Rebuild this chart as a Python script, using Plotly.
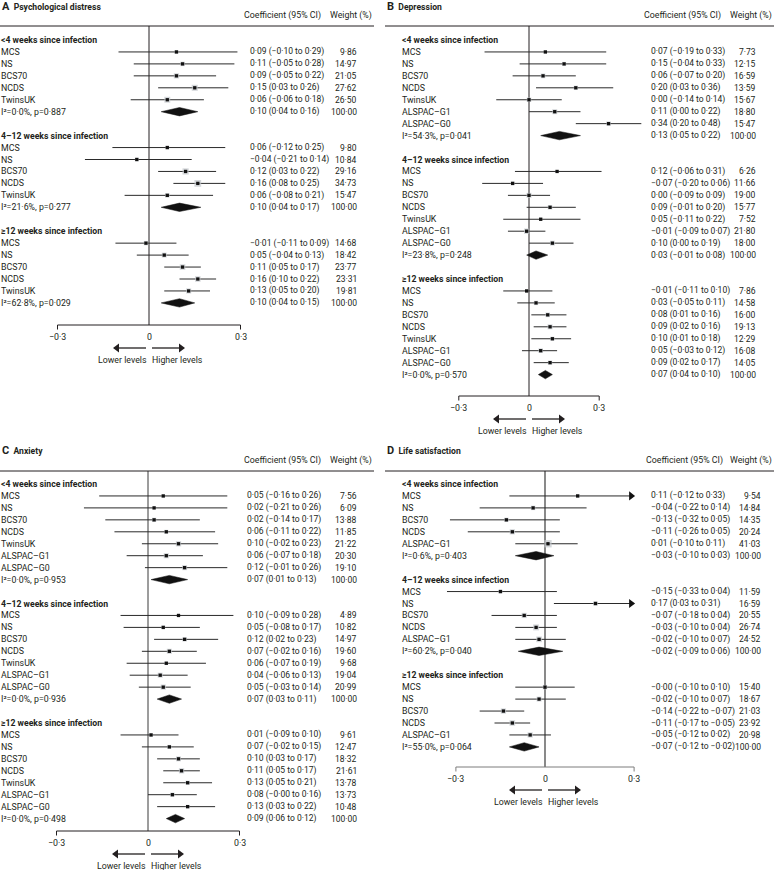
import math
import plotly.graph_objects as go

W, H = 774, 870
S = 11.95  # row pitch (px)
FONT = "Roboto, Liberation Sans, sans-serif"
TXT = "#231f20"
FS = 8.5

# ---------------- data ----------------
groups = ["<4 weeks since infection", "4–12 weeks since infection", "≥12 weeks since infection"]
studies5 = ["MCS", "NS", "BCS70", "NCDS", "TwinsUK"]
studies7 = ["MCS", "NS", "BCS70", "NCDS", "TwinsUK", "ALSPAC–G1", "ALSPAC–G0"]
studiesD = ["MCS", "NS", "BCS70", "NCDS", "ALSPAC–G1"]

# A  Psychological distress
A_est = [[0.09, 0.11, 0.09, 0.15, 0.06], [0.06, -0.04, 0.12, 0.16, 0.06], [-0.01, 0.05, 0.11, 0.16, 0.13]]
A_lo = [[-0.10, -0.05, -0.05, 0.03, -0.06], [-0.12, -0.21, 0.03, 0.08, -0.08], [-0.11, -0.04, 0.05, 0.10, 0.05]]
A_hi = [[0.29, 0.28, 0.22, 0.26, 0.18], [0.25, 0.14, 0.22, 0.25, 0.21], [0.09, 0.13, 0.17, 0.22, 0.20]]
A_wt = [[9.86, 14.97, 21.05, 27.62, 26.50], [9.80, 10.84, 29.16, 34.73, 15.47], [14.68, 18.42, 23.77, 23.31, 19.81]]
A_pool_est = [0.10, 0.10, 0.10]
A_pool_lo = [0.04, 0.04, 0.04]
A_pool_hi = [0.16, 0.17, 0.15]
A_i2 = [0.0, 21.6, 62.8]
A_p = [0.887, 0.277, 0.029]

# B  Depression
B_est = [[0.07, 0.15, 0.06, 0.20, 0.00, 0.11, 0.34], [0.12, -0.07, 0.00, 0.09, 0.05, -0.01, 0.10], [-0.01, 0.03, 0.08, 0.09, 0.10, 0.05, 0.09]]
B_lo = [[-0.19, -0.04, -0.07, 0.03, -0.14, 0.00, 0.20], [-0.06, -0.20, -0.09, -0.01, -0.11, -0.09, 0.00], [-0.11, -0.05, 0.01, 0.02, 0.01, -0.03, 0.02]]
B_hi = [[0.33, 0.33, 0.20, 0.36, 0.14, 0.22, 0.48], [0.31, 0.06, 0.09, 0.20, 0.22, 0.07, 0.19], [0.10, 0.11, 0.16, 0.16, 0.18, 0.12, 0.17]]
B_wt = [[7.73, 12.15, 16.59, 13.59, 15.67, 18.80, 15.47], [6.26, 11.66, 19.00, 15.77, 7.52, 21.80, 18.00], [7.86, 14.58, 16.00, 19.13, 12.29, 16.08, 14.05]]
B_pool_est = [0.13, 0.03, 0.07]
B_pool_lo = [0.05, -0.01, 0.04]
B_pool_hi = [0.22, 0.08, 0.10]
B_i2 = [54.3, 23.8, 0.0]
B_p = [0.041, 0.248, 0.570]

# C  Anxiety
C_est = [[0.05, 0.02, 0.02, 0.06, 0.10, 0.06, 0.12], [0.10, 0.05, 0.12, 0.07, 0.06, 0.04, 0.05], [0.01, 0.07, 0.10, 0.11, 0.13, 0.08, 0.13]]
C_lo = [[-0.16, -0.21, -0.14, -0.11, -0.02, -0.07, -0.01], [-0.09, -0.08, 0.02, -0.02, -0.07, -0.06, -0.03], [-0.09, -0.02, 0.03, 0.05, 0.05, -0.0, 0.03]]
C_hi = [[0.26, 0.26, 0.17, 0.22, 0.23, 0.18, 0.26], [0.28, 0.17, 0.23, 0.16, 0.19, 0.13, 0.14], [0.10, 0.15, 0.17, 0.17, 0.21, 0.16, 0.22]]
C_wt = [[7.56, 6.09, 13.88, 11.85, 21.22, 20.30, 19.10], [4.89, 10.82, 14.97, 19.60, 9.68, 19.04, 20.99], [9.61, 12.47, 18.32, 21.61, 13.78, 13.73, 10.48]]
C_pool_est = [0.07, 0.07, 0.09]
C_pool_lo = [0.01, 0.03, 0.06]
C_pool_hi = [0.13, 0.11, 0.12]
C_i2 = [0.0, 0.0, 0.0]
C_p = [0.953, 0.936, 0.498]

# D  Life satisfaction
D_est = [[0.11, -0.04, -0.13, -0.11, 0.01], [-0.15, 0.17, -0.07, -0.03, -0.02], [-0.0, -0.02, -0.14, -0.11, -0.05]]
D_lo = [[-0.12, -0.22, -0.32, -0.26, -0.10], [-0.33, 0.03, -0.18, -0.10, -0.10], [-0.10, -0.10, -0.22, -0.17, -0.12]]
D_hi = [[0.33, 0.14, 0.05, 0.05, 0.11], [0.04, 0.31, 0.04, 0.04, 0.07], [0.10, 0.07, -0.07, -0.05, 0.02]]
D_wt = [[9.54, 14.84, 14.35, 20.24, 41.03], [11.59, 16.59, 20.55, 26.74, 24.52], [15.40, 18.67, 21.03, 23.92, 20.98]]
D_pool_est = [-0.03, -0.02, -0.07]
D_pool_lo = [-0.10, -0.09, -0.12]
D_pool_hi = [0.03, 0.06, -0.02]
D_i2 = [0.6, 60.2, 55.0]
D_p = [0.403, 0.040, 0.064]

tick_vals = [-0.3, 0.0, 0.3]
tick_text = ["−0·3", "0", "0·3"]

# ---------------- layout of panels (pixel geometry) ----------------
panels = [
    dict(letter="A", title="Psychological distress", studies=studies5,
         est=A_est, lo=A_lo, hi=A_hi, wt=A_wt, pe=A_pool_est, pl=A_pool_lo, ph=A_pool_hi, i2=A_i2, p=A_p,
         left=0, right=374, zero=149, scale=305, y0=40, hdr=26, title_y=6, colhdr_y=15,
         name_x=0, coef_x=249, wt_rx=358, colhdr_x=243, wthdr_rx=373, axis_px=325, dom=(5, 250),
         zcol=TXT, zw=1, clip=None),
    dict(letter="B", title="Depression", studies=studies7,
         est=B_est, lo=B_lo, hi=B_hi, wt=B_wt, pe=B_pool_est, pl=B_pool_lo, ph=B_pool_hi, i2=B_i2, p=B_p,
         left=385, right=774, zero=529, scale=234, y0=40, hdr=26, title_y=6, colhdr_y=15,
         name_x=401, coef_x=650, wt_rx=757, colhdr_x=643, wthdr_rx=773, axis_px=396, dom=(395, 665),
         zcol=TXT, zw=1, clip=None),
    dict(letter="C", title="Anxiety", studies=studies7,
         est=C_est, lo=C_lo, hi=C_hi, wt=C_wt, pe=C_pool_est, pl=C_pool_lo, ph=C_pool_hi, i2=C_i2, p=C_p,
         left=0, right=374, zero=148, scale=305, y0=484, hdr=471, title_y=450, colhdr_y=460,
         name_x=0, coef_x=246, wt_rx=358, colhdr_x=243, wthdr_rx=373, axis_px=831, dom=(5, 250),
         zcol="#3a3a3a", zw=1, clip=None),
    dict(letter="D", title="Life satisfaction", studies=studiesD,
         est=D_est, lo=D_lo, hi=D_hi, wt=D_wt, pe=D_pool_est, pl=D_pool_lo, ph=D_pool_hi, i2=D_i2, p=D_p,
         left=385, right=774, zero=545, scale=297, y0=484, hdr=471, title_y=450, colhdr_y=460,
         name_x=401, coef_x=650, wt_rx=762, colhdr_x=645, wthdr_rx=773, axis_px=767, dom=(395, 665),
         zcol="#7d7d7d", zw=1.8, clip=0.3),
]


def f2(v):
    return f"{v:.2f}".replace("-", "−").replace(".", "·")


def ci_text(e, l, h):
    return f"{f2(e)} ({f2(l)} to {f2(h)})"


fig = go.Figure()
annotations = []
shapes = []
layout_axes = {}


def pxx(px):
    return px / W


def txt(xref, yref, x, y, text, anchor="left", size=FS, **kw):
    d = dict(xref=xref, yref=yref, x=x, y=y, xanchor=anchor, yanchor="middle", showarrow=False,
             text=text, font=dict(family=FONT, size=size, color=TXT), borderpad=0)
    d.update(kw)
    annotations.append(d)


for k, P in enumerate(panels):
    sfx = "" if k == 0 else str(k + 1)
    xa, ya = "x" + sfx, "y" + sfx
    zero, scale, y0 = P["zero"], P["scale"], P["y0"]

    d0, d1 = P["dom"]
    layout_axes["xaxis" + sfx] = dict(domain=[d0 / W, d1 / W], range=[(d0 - zero) / scale, (d1 - zero) / scale],
                                      visible=False, anchor=ya, fixedrange=True)
    layout_axes["yaxis" + sfx] = dict(domain=[0, 1], range=[(H - y0) / S, -y0 / S],
                                      visible=False, anchor=xa, fixedrange=True)

    def row_of(px):
        return (px - y0) / S

    # panel title and column headers
    txt("paper", "paper", pxx(P["left"] + 1), 1 - P["title_y"] / H,
        f"<b><span style='font-size:11px'>{P['letter']}</span>  {P['title']}</b>", size=8.6)
    txt("paper", "paper", pxx(P["colhdr_x"]), 1 - P["colhdr_y"] / H, "Coefficient (95% CI)", size=8.8)
    txt("paper", "paper", pxx(P["wthdr_rx"]), 1 - P["colhdr_y"] / H, "Weight (%)", anchor="right", size=8.8)
    shapes.append(dict(type="line", xref="paper", yref="paper", x0=pxx(P["left"]), x1=pxx(P["right"]),
                       y0=1 - P["hdr"] / H, y1=1 - P["hdr"] / H, line=dict(color=TXT, width=1)))

    r = 0
    ci_x, ci_y = [], []
    sq_x, sq_y, sq_s = [], [], []
    dm_x, dm_y = [], []
    tri_x, tri_y = [], []
    hh = 4.2 / S
    for g, gname in enumerate(groups):
        txt("paper", ya, pxx(P["name_x"]), r, f"<b>{gname}</b>", size=8.7)
        r += 1
        for i, st in enumerate(P["studies"]):
            e, l, h, w = P["est"][g][i], P["lo"][g][i], P["hi"][g][i], P["wt"][g][i]
            h_line = h
            if P["clip"] is not None and h > P["clip"]:
                h_line = P["clip"] - 3 / scale
                tri_x.append(P["clip"] - 3 / scale)
                tri_y.append(r)
            ci_x += [l, h_line, None]
            ci_y += [r, r, None]
            sq_x.append(e)
            sq_y.append(r)
            sq_s.append(math.sqrt(w) * 1.15)
            txt("paper", ya, pxx(P["name_x"]), r, st, size=8.8)
            txt("paper", ya, pxx(P["coef_x"]), r, ci_text(e, l, h))
            txt("paper", ya, pxx(P["wt_rx"]), r, f2(w), anchor="right")
            r += 1
        pe, pl, ph = P["pe"][g], P["pl"][g], P["ph"][g]
        dm_x += [pl, pe, ph, pe, pl, None]
        dm_y += [r, r - hh, r, r + hh, r, None]
        het = f"I²={P['i2'][g]:.1f}%, p={P['p'][g]:.3f}".replace(".", "·")
        txt("paper", ya, pxx(P["name_x"]), r, het, size=8.8)
        txt("paper", ya, pxx(P["coef_x"]), r, ci_text(pe, pl, ph))
        txt("paper", ya, pxx(P["wt_rx"]), r, f2(100.0), anchor="right")
        r += 2

    axis_r = row_of(P["axis_px"])
    hdr_r = row_of(P["hdr"])
    tick_r = 4.5 / S

    fig.add_trace(go.Scatter(x=[0, 0], y=[hdr_r, axis_r], mode="lines", xaxis=xa, yaxis=ya,
                             line=dict(color=P["zcol"], width=P["zw"]), hoverinfo="skip"))
    fig.add_trace(go.Scatter(x=ci_x, y=ci_y, mode="lines", xaxis=xa, yaxis=ya,
                             line=dict(color="#2a2a2a", width=1), hoverinfo="skip"))
    if tri_x:
        fig.add_trace(go.Scatter(x=tri_x, y=tri_y, mode="markers", xaxis=xa, yaxis=ya, cliponaxis=False,
                                 marker=dict(symbol="triangle-right", size=8, color="#111111", line=dict(width=0)),
                                 hoverinfo="skip"))
    fig.add_trace(go.Scatter(x=sq_x, y=sq_y, mode="markers", xaxis=xa, yaxis=ya, cliponaxis=False,
                             marker=dict(symbol="square", size=sq_s, color="#c3c7cc", line=dict(width=0)),
                             hoverinfo="skip"))
    fig.add_trace(go.Scatter(x=sq_x, y=sq_y, mode="markers", xaxis=xa, yaxis=ya, cliponaxis=False,
                             marker=dict(symbol="square", size=3.3, color="#111111", line=dict(width=0)),
                             hoverinfo="skip"))
    fig.add_trace(go.Scatter(x=dm_x, y=dm_y, mode="lines", fill="toself", fillcolor="#111111", xaxis=xa, yaxis=ya,
                             line=dict(color="#111111", width=0.5), hoverinfo="skip"))
    fig.add_trace(go.Scatter(x=[tick_vals[0], tick_vals[0], tick_vals[-1], tick_vals[-1]],
                             y=[axis_r + tick_r, axis_r, axis_r, axis_r + tick_r], mode="lines",
                             xaxis=xa, yaxis=ya, line=dict(color=P["zcol"] if k == 3 else TXT, width=1),
                             hoverinfo="skip"))
    for tv, tt in zip(tick_vals, tick_text):
        txt(xa, ya, tv, axis_r + 12 / S, tt, anchor="center", size=8.8)

    # direction arrows (lines + triangular heads)
    arr_r = axis_r + 23 / S
    fig.add_trace(go.Scatter(x=[-3 / scale, -31 / scale, None, 3 / scale, 31 / scale],
                             y=[arr_r, arr_r, None, arr_r, arr_r], mode="lines", xaxis=xa, yaxis=ya,
                             line=dict(color=TXT, width=1.3), hoverinfo="skip"))
    fig.add_trace(go.Scatter(x=[-32 / scale, 32 / scale], y=[arr_r, arr_r], mode="markers", xaxis=xa, yaxis=ya,
                             cliponaxis=False,
                             marker=dict(symbol=["triangle-left", "triangle-right"], size=8, color=TXT,
                                         line=dict(width=0)), hoverinfo="skip"))
    lab_r = axis_r + 35 / S
    txt(xa, ya, 0, lab_r, "Lower levels", anchor="right", xshift=-1, size=8.8)
    txt(xa, ya, 0, lab_r, "Higher levels", anchor="left", xshift=2, size=8.8)

fig.update_layout(width=W, height=H, margin=dict(l=0, r=0, t=0, b=0), paper_bgcolor="white",
                  plot_bgcolor="rgba(0,0,0,0)", showlegend=False, annotations=annotations, shapes=shapes,
                  font=dict(family=FONT, color=TXT), **layout_axes)
fig.write_html("out.html", config={"displayModeBar": False, "staticPlot": True},
               post_script="document.body.style.margin='0px';")
